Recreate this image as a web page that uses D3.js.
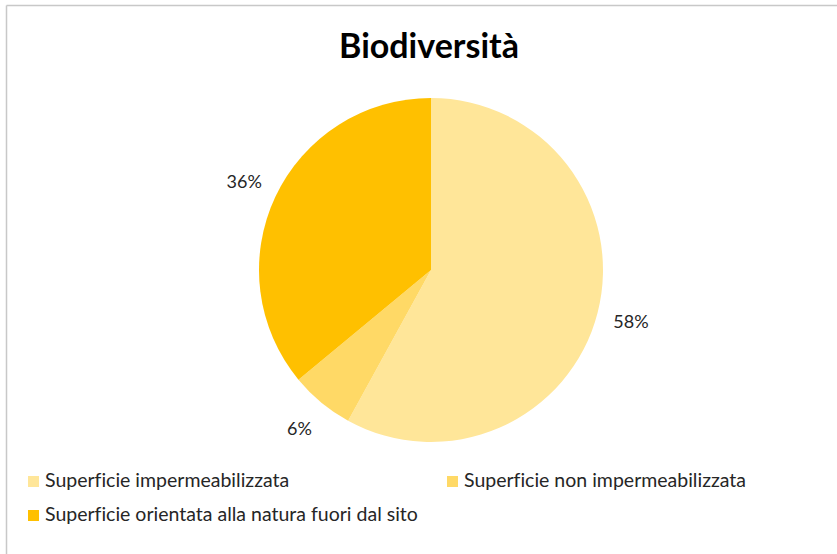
<!DOCTYPE html>
<html>
<head>
<meta charset="utf-8">
<script src="https://cdn.jsdelivr.net/npm/d3@7"></script>
<style>
  body { margin: 0; background: #fff; }
  svg { display: block; font-family: Lato, "Open Sans", sans-serif; font-variant-ligatures: none; }
</style>
</head>
<body>
<div id="chart"></div>
<script>
// Data
const categories = [
  "Superficie impermeabilizzata",
  "Superficie non impermeabilizzata",
  "Superficie orientata alla natura fuori dal sito"
];
const values = [58, 6, 36];
const colors = ["#FFE699", "#FFD966", "#FFC000"];

const width = 837;
const height = 554;
const cx = 431, cy = 270;
const radius = 172;

const svg = d3.select("#chart")
  .append("svg")
  .attr("width", width)
  .attr("height", height);

// chart frame (only top and left edges visible)
svg.append("line")
  .attr("x1", 6.5).attr("x2", width).attr("y1", 5.5).attr("y2", 5.5)
  .attr("stroke", "#c8c8c8").attr("stroke-width", 1.5);
svg.append("line")
  .attr("x1", 6.5).attr("x2", 6.5).attr("y1", 5.5).attr("y2", height)
  .attr("stroke", "#c8c8c8").attr("stroke-width", 1.5);

// Title
svg.append("text")
  .attr("x", 429)
  .attr("y", 58)
  .attr("text-anchor", "middle")
  .style("font-size", "34px")
  .style("font-weight", "bold")
  .style("fill", "#000")
  .text("Biodiversità");

const color = d3.scaleOrdinal().domain(categories).range(colors);

const pie = d3.pie().sort(null).value(d => d.value);
const arcs = pie(categories.map((c, i) => ({ name: c, value: values[i] })));

const arc = d3.arc().innerRadius(0).outerRadius(radius);

const g = svg.append("g").attr("transform", `translate(${cx}, ${cy})`);

g.selectAll("path")
  .data(arcs)
  .enter()
  .append("path")
  .attr("d", arc)
  .attr("fill", d => color(d.data.name));

// Labels outside the pie
const labelArc = d3.arc().innerRadius(radius * 1.2).outerRadius(radius * 1.2);
g.selectAll("text.lbl")
  .data(arcs)
  .enter()
  .append("text")
  .attr("class", "lbl")
  .attr("transform", d => `translate(${labelArc.centroid(d)})`)
  .attr("text-anchor", "middle")
  .attr("dy", "0.35em")
  .style("font-size", "18px")
  .style("fill", "#262626")
  .text(d => d.data.value + "%");

// Legend
const legendPos = [
  { x: 28, y: 476 },
  { x: 447, y: 476 },
  { x: 28, y: 510 }
];
const legend = svg.selectAll("g.legend")
  .data(categories)
  .enter()
  .append("g")
  .attr("class", "legend")
  .attr("transform", (d, i) => `translate(${legendPos[i].x}, ${legendPos[i].y})`);

legend.append("rect")
  .attr("width", 11)
  .attr("height", 11)
  .attr("fill", d => color(d));

legend.append("text")
  .attr("x", 17)
  .attr("y", 11)
  .style("font-size", "19.5px")
  .style("fill", "#262626")
  .text(d => d);
</script>
</body>
</html>
